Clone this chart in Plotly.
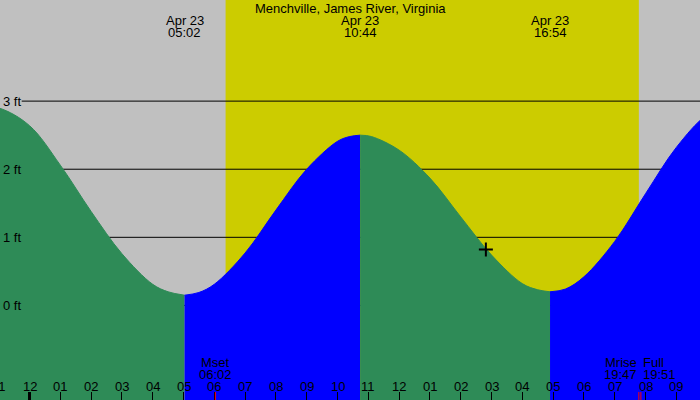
import plotly.graph_objects as go

# ---------------- data ----------------
title_text = "Menchville, James River, Virginia"
date_label = "Apr 23"

# tide height (ft), time in hours from midnight Apr 23
tide_hours = [-2.0, -1.0, 0.0, 1.0, 2.0, 3.0, 4.0, 4.5, 5 + 2/60, 5.5, 6.0, 7.0, 8.0, 9.0, 10.0, 10.4,
              10 + 44/60, 11.1, 12.0, 13.0, 14.0, 15.0, 16.0, 16.5, 16 + 54/60, 17.4, 18.0,
              19.0, 20.0, 21.0, 22.0, 23.0]
tide_ft = [2.94, 2.90, 2.64, 2.06, 1.38, 0.76, 0.31, 0.20, 0.15, 0.19, 0.31, 0.77, 1.40, 2.00, 2.41, 2.48,
           2.50, 2.48, 2.28, 1.87, 1.30, 0.74, 0.32, 0.23, 0.20, 0.24, 0.42,
           0.94, 1.64, 2.32, 2.80, 3.00]

extreme_hours = [5 + 2/60, 10 + 44/60, 16 + 54/60]
extreme_labels = ["05:02", "10:44", "16:54"]

sunrise_hour = 6 + 22/60
sunset_hour = 19 + 47/60

moon_names = ["Mset", "Mrise", "Full"]
moon_hours = [6 + 2/60, 19 + 47/60, 19 + 51/60]
moon_labels = ["06:02", "19:47", "19:51"]
moon_anchor = ["center", "right", "left"]

hour_ticks = list(range(-1, 22))
hour_tick_labels = ["11", "12", "01", "02", "03", "04", "05", "06", "07", "08", "09", "10",
                    "11", "12", "01", "02", "03", "04", "05", "06", "07", "08", "09"]

grid_ft = [0, 1, 2, 3]
grid_labels = ["0 ft", "1 ft", "2 ft", "3 ft"]

now_hour = 14 + 49/60
now_ft = 0.82

# ---------------- style ----------------
x_min, x_max = -0.958, 21.769
y_min, y_max = -1.389, 4.485
GRAY = "#C0C0C0"
YELLOW = "#CCCC00"
GREEN = "#2E8B57"
BLUE = "#0000FF"
FONT = dict(family="Liberation Sans, Arial, sans-serif", size=13, color="black")

fig = go.Figure()

# tide fill segments: falling = green, rising = blue
idx = [0] + [tide_hours.index(h) for h in extreme_hours] + [len(tide_hours) - 1]
for a, b in zip(idx[:-1], idx[1:]):
    xs = tide_hours[a:b + 1]
    ys = tide_ft[a:b + 1]
    color = GREEN if ys[-1] < ys[0] else BLUE
    fig.add_trace(go.Scatter(x=xs, y=[y_min] * len(xs), mode="lines",
                             line=dict(width=0, color=color), hoverinfo="skip", showlegend=False))
    fig.add_trace(go.Scatter(x=xs, y=ys, mode="lines",
                             line=dict(width=1, color=color, shape="spline", smoothing=1),
                             fill="tonexty", fillcolor=color, hoverinfo="skip", showlegend=False))

# current-time marker
fig.add_trace(go.Scatter(x=[now_hour], y=[now_ft], mode="markers",
                         marker=dict(symbol="cross-thin", size=10, color="black",
                                     line=dict(width=2, color="black")),
                         hoverinfo="skip", showlegend=False))

shapes = []
# daylight band
shapes.append(dict(type="rect", xref="x", yref="paper", x0=sunrise_hour, x1=sunset_hour,
                   y0=0, y1=1, fillcolor=YELLOW, line=dict(width=0), layer="below"))
# horizontal grid lines
for g in grid_ft:
    shapes.append(dict(type="line", xref="paper", yref="y", x0=0.031, x1=1, y0=g, y1=g,
                       line=dict(color="black", width=1), layer="below"))
# bold midnight tick
shapes.append(dict(type="line", xref="x", yref="paper", ysizemode="pixel", yanchor=0,
                   x0=0, x1=0, y0=0, y1=8, line=dict(color="black", width=3), layer="above"))
# red moon-event ticks
for h in moon_hours:
    shapes.append(dict(type="line", xref="x", yref="paper", ysizemode="pixel", yanchor=0,
                       x0=h, x1=h, y0=0, y1=8, line=dict(color="red", width=1), layer="above"))

ann = []
ann.append(dict(text=title_text, xref="paper", yref="paper", x=0.5, y=1, yshift=-8,
                xanchor="center", yanchor="middle", showarrow=False, font=FONT))
for h, lab in zip(extreme_hours, extreme_labels):
    ann.append(dict(text=date_label, xref="x", yref="paper", x=h, y=1, yshift=-20,
                    xanchor="center", yanchor="middle", showarrow=False, font=FONT))
    ann.append(dict(text=lab, xref="x", yref="paper", x=h, y=1, yshift=-32,
                    xanchor="center", yanchor="middle", showarrow=False, font=FONT))
for g, lab in zip(grid_ft, grid_labels):
    ann.append(dict(text=lab, xref="paper", yref="y", x=0, y=g, xshift=1,
                    xanchor="left", yanchor="middle", showarrow=False, font=FONT))
for h, lab in zip(hour_ticks, hour_tick_labels):
    frac = (h - x_min) / (x_max - x_min)
    ann.append(dict(text=lab, xref="paper", yref="paper", x=frac, y=0, yshift=14,
                    xanchor="center", yanchor="middle", showarrow=False, font=FONT))
for name, h, lab, anc in zip(moon_names, moon_hours, moon_labels, moon_anchor):
    ann.append(dict(text=name, xref="x", yref="paper", x=h, y=0, yshift=38,
                    xanchor=anc, yanchor="middle", showarrow=False, font=FONT))
    ann.append(dict(text=lab, xref="x", yref="paper", x=h, y=0, yshift=26,
                    xanchor=anc, yanchor="middle", showarrow=False, font=FONT))

fig.update_layout(
    width=700, height=400, margin=dict(l=0, r=0, t=0, b=0),
    paper_bgcolor=GRAY, plot_bgcolor=GRAY,
    shapes=shapes, annotations=ann, showlegend=False,
    xaxis=dict(range=[x_min, x_max], showgrid=False, zeroline=False, showticklabels=False,
               ticks="inside", tickvals=hour_ticks, ticklen=8, tickwidth=1, tickcolor="black",
               showline=False, fixedrange=True),
    yaxis=dict(range=[y_min, y_max], showgrid=False, zeroline=False, showticklabels=False,
               ticks="", showline=False, fixedrange=True),
)

fig.write_html("out.html")
